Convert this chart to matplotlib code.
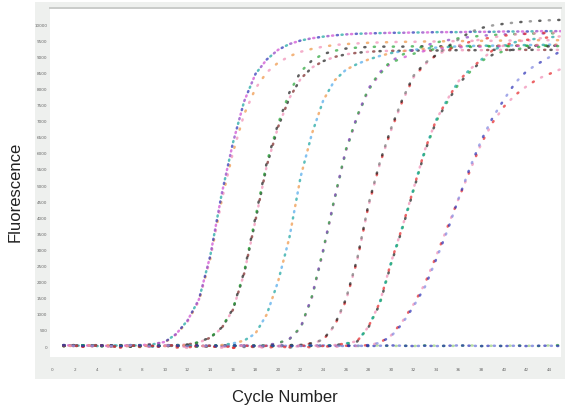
import numpy as np
import matplotlib
matplotlib.use('Agg')
import matplotlib.pyplot as plt
from matplotlib.patches import Rectangle

# qPCR amplification curves (cycles 1..45)
cycles = list(range(1, 46))

g1_hi = [0.3, 0.1, 0.2, 0.0, 0.1, 0.2, 0.1, 0.3, 0.6, 1.3, 3.8, 8.0, 14.5, 28.0, 47.0,
         63.0, 76.0, 84.5, 89.0, 92.0, 93.8, 94.9, 95.6, 96.1, 96.5, 96.8, 97.0, 97.1, 97.2, 97.3,
         97.3, 97.4, 97.4, 97.5, 97.5, 97.5, 97.6, 97.6, 97.6, 97.7, 97.7, 97.7, 97.8, 97.8, 97.8]
g1_lo = [0.2, 0.3, 0.0, 0.2, 0.1, 0.0, 0.2, 0.4, 0.7, 1.2, 3.6, 7.6, 14.0, 27.0, 45.0,
         60.0, 72.0, 80.0, 85.0, 88.0, 90.0, 91.4, 92.3, 93.0, 93.5, 93.8, 94.0, 94.2, 94.3, 94.4,
         94.5, 94.5, 94.6, 94.6, 94.7, 94.7, 94.8, 94.8, 94.8, 94.9, 94.9, 94.9, 95.0, 95.0, 95.0]
g2_hi = [0.1, 0.3, 0.2, 0.0, -0.2, 0.1, 0.2, 0.0, 0.1, 0.3, 0.2, 0.5, 1.2, 2.7, 5.7,
         11.5, 23.0, 40.0, 57.0, 69.0, 78.7, 85.2, 88.7, 90.7, 91.7, 92.4, 92.7, 92.9, 93.0, 93.0,
         93.0, 93.1, 93.1, 93.1, 93.1, 93.2, 93.2, 93.2, 93.2, 93.2, 93.3, 93.3, 93.3, 93.3, 93.3]
g2_lo = [0.0, 0.2, 0.1, 0.3, 0.0, -0.3, 0.1, 0.2, 0.0, 0.1, 0.3, 0.5, 1.1, 2.6, 5.5,
         11.2, 22.5, 39.0, 56.0, 68.0, 77.0, 83.0, 86.5, 88.5, 89.8, 90.6, 91.1, 91.4, 91.6, 91.7,
         91.7, 91.8, 91.8, 91.8, 91.9, 91.9, 91.9, 91.9, 92.0, 92.0, 92.0, 92.0, 92.0, 92.0, 92.0]
g3 = [0.2, 0.0, 0.3, 0.1, 0.2, 0.0, 0.1, 0.2, -0.2, 0.0, 0.1, 0.2, 0.0, 0.1, 0.3,
      0.8, 1.7, 3.9, 9.8, 20.0, 33.6, 52.6, 66.0, 76.3, 82.5, 85.8, 87.6, 89.0, 90.1, 91.0,
      91.6, 92.0, 92.4, 92.7, 92.9, 93.1, 93.2, 93.3, 93.3, 93.4, 93.4, 93.5, 93.5, 93.6, 93.6]
g4_hi = [0.1, 0.2, 0.0, 0.3, 0.1, 0.0, -0.2, 0.1, 0.2, 0.0, 0.1, 0.2, 0.0, -0.3, 0.1,
         0.2, 0.0, 0.1, 0.3, 0.9, 2.2, 5.8, 15.5, 30.0, 46.0, 61.0, 71.5, 80.0, 85.0, 88.5,
         90.5, 92.0, 93.3, 94.3, 95.0, 95.6, 96.0, 96.4, 96.6, 96.8, 96.9, 97.0, 97.1, 97.1, 97.2]
g4_lo = [0.0, 0.1, 0.3, 0.0, 0.2, 0.1, 0.0, -0.2, 0.1, 0.2, 0.0, 0.1, 0.3, 0.0, 0.1,
         0.0, 0.2, 0.1, 0.2, 0.8, 2.1, 5.6, 15.0, 29.5, 45.5, 60.5, 71.0, 79.5, 84.5, 88.0,
         89.5, 90.8, 91.7, 92.3, 92.6, 92.8, 92.9, 93.0, 93.1, 93.1, 93.2, 93.2, 93.3, 93.3, 93.3]
g5_hi = [0.2, 0.0, 0.1, 0.2, 0.0, 0.1, 0.3, 0.0, -0.2, 0.1, 0.0, 0.2, 0.1, 0.0, 0.2,
         0.1, -0.3, 0.0, 0.2, 0.1, 0.3, 0.4, 0.9, 2.0, 6.5, 14.5, 27.0, 44.0, 57.0, 67.6,
         76.6, 84.0, 87.9, 90.4, 93.0, 95.3, 97.5, 98.8, 99.6, 100.1, 100.5, 100.8, 101.0, 101.2, 101.3]
g5_lo = [0.0, 0.2, -0.3, 0.1, 0.0, 0.2, 0.1, -0.4, 0.0, 0.1, -0.5, 0.0, 0.2, -0.3, 0.0,
         -0.6, 0.1, -0.4, 0.0, 0.2, 0.1, 0.3, 0.8, 1.9, 6.3, 14.0, 26.5, 43.5, 56.5, 67.0,
         76.0, 83.5, 87.5, 90.4, 92.0, 93.4, 94.5, 95.3, 95.9, 96.4, 96.8, 97.0, 97.2, 97.3, 97.4]
g6 = [0.1, 0.0, 0.2, 0.1, -0.2, 0.0, 0.1, 0.3, 0.0, 0.1, 0.2, -0.4, 0.0, 0.1, -0.5,
      0.0, 0.2, -0.3, 0.1, 0.0, -0.5, 0.1, 0.2, 0.0, 0.3, 0.8, 1.5, 6.0, 13.5, 26.0,
      37.0, 49.0, 61.0, 70.3, 76.7, 82.4, 86.0, 89.0, 91.9, 93.4, 94.4, 95.1, 95.5, 95.9, 96.2]
g6_lo = [0.0, 0.2, 0.1, 0.0, 0.3, 0.1, -0.2, 0.0, 0.2, 0.1, 0.0, 0.2, -0.3, 0.0, 0.1,
         0.2, 0.0, 0.1, -0.2, 0.0, 0.1, 0.2, 0.0, 0.1, 0.3, 0.7, 1.4, 5.8, 13.0, 25.5,
         36.5, 48.5, 60.5, 69.8, 76.0, 81.5, 85.2, 88.5, 90.5, 91.6, 92.2, 92.6, 92.9, 93.1, 93.2]
g7_red = [0.1, 0.0, -0.3, 0.2, 0.0, -0.5, 0.1, 0.0, -0.4, 0.2, 0.0, -0.6, 0.1, -0.3, 0.0,
          -0.5, 0.1, -0.2, -0.6, 0.0, -0.4, 0.1, -0.5, 0.0, -0.3, 0.1, 0.0, 0.3, 1.0, 3.3,
          7.6, 13.0, 19.4, 28.0, 37.0, 46.0, 54.6, 63.0, 69.5, 74.4, 78.0, 80.7, 83.0, 84.5, 86.0]
g7_blue = [0.2, 0.1, 0.0, 0.2, 0.1, 0.0, 0.3, 0.1, 0.0, 0.2, 0.1, 0.0, 0.2, 0.0, 0.1,
           0.2, 0.0, 0.1, 0.0, 0.2, 0.1, 0.0, 0.2, 0.1, 0.0, 0.2, 0.1, 0.3, 1.0, 3.0,
           7.0, 12.4, 18.4, 27.0, 36.0, 46.0, 55.6, 64.0, 71.0, 76.6, 81.8, 85.4, 87.7, 89.7, 91.5]
ntc_blue = [0.3, 0.2, 0.1, 0.2, 0.0, 0.1, 0.2, 0.1, 0.0, 0.1, 0.2, 0.1, 0.0, 0.1, 0.0,
            0.1, 0.2, 0.0, 0.1, 0.0, 0.1, 0.0, 0.1, 0.2, 0.1, 0.0, 0.1, 0.0, 0.1, 0.2,
            0.1, 0.0, 0.1, 0.0, 0.1, 0.2, 0.1, 0.0, 0.1, 0.0, 0.1, 0.0, 0.1, 0.1, 0.0]
ntc_green = [0.2, 0.1, 0.2, 0.0, 0.1, 0.3, 0.1, 0.2, 0.1, 0.0, 0.2, 0.1, 0.0, 0.2, 0.1,
             0.0, 0.1, 0.2, 0.0, 0.1, 0.0, 0.2, 0.1, 0.0, 0.1, 0.2, 0.0, 0.1, 0.2, 0.0,
             0.1, 0.0, 0.2, 0.1, 0.0, 0.1, 0.2, 0.0, 0.1, 0.0, 0.2, 0.1, 0.0, 0.2, 0.3]

# which colours sit on each curve
purple, teal, blue, magenta = '#8b3fc2', '#17a3a0', '#2a2fb5', '#cf4bd0'
pink, orange, green, black = '#f08cb4', '#ee9444', '#25a336', '#1c1c1c'
red, ltblue, dkred = '#e52427', '#4fa9ea', '#7a2222'

curves = [
    (ntc_green, [green, '#9bd27a']),
    (ntc_blue, [blue, '#6670d8', blue]),
    (g1_lo, [pink, orange]),
    (g1_hi, [purple, teal, blue, magenta]),
    (g2_lo, [black, dkred, pink]),
    (g2_hi, [green, black]),
    (g3, [ltblue, teal, orange]),
    (g4_lo, [green, magenta]),
    (g4_hi, [purple, green]),
    (g5_lo, [red, pink]),
    (g5_hi, [black, '#777777']),
    (g6_lo, [green, black]),
    (g6, [teal, red, pink]),
    (g7_red, [red, pink]),
    (g7_blue, [blue, '#7f86e0']),
]

fig = plt.figure(figsize=(5.65, 4.14), dpi=100)
# light grey panel behind the plot like the instrument software
fig.patches.append(Rectangle((35 / 565, 1 - 380 / 414), 1 - 35 / 565, 377 / 414,
                             transform=fig.transFigure, facecolor='#eef0ee',
                             edgecolor='none', zorder=-10))
ax = fig.add_axes([50 / 565, 1 - 358 / 414, 511 / 565, 349 / 414])
ax.set_facecolor('white')

period = 7.6  # dash period, in units of line width
for vals, cols in curves:
    n = len(cols)
    for k, col in enumerate(cols):
        ax.plot(cycles, vals, color=col, lw=1.8, alpha=0.7,
                linestyle=(k * period / n, (0.45, period - 0.45)), dash_capstyle='round')

ax.set_xlim(-0.18, 45.04)
ax.set_ylim(-3.4, 105.0)

ax.set_xticks(range(0, 45, 2))
ax.set_xticklabels([str(t) for t in range(0, 45, 2)], fontsize=3, color='#666666')
ax.set_yticks(range(0, 105, 5))
ax.set_yticklabels([str(t * 100) for t in range(0, 105, 5)], fontsize=3, color='#666666')
ax.tick_params(axis='x', length=0, pad=7)
ax.tick_params(axis='y', length=0, pad=2)

for s in ['left', 'right', 'bottom']:
    ax.spines[s].set_visible(False)
ax.spines['top'].set_color('#c9cbc9')
ax.spines['top'].set_linewidth(1.4)

fig.text(15 / 565, 1 - 192 / 414, 'Fluorescence', rotation=90, ha='center', va='center',
         fontsize=12, family='Liberation Sans', color='#222222')
fig.text(285 / 565, 1 - 398 / 414, 'Cycle Number', ha='center', va='center',
         fontsize=12, family='Liberation Sans', color='#222222')

fig.savefig('out.png', dpi=100)
